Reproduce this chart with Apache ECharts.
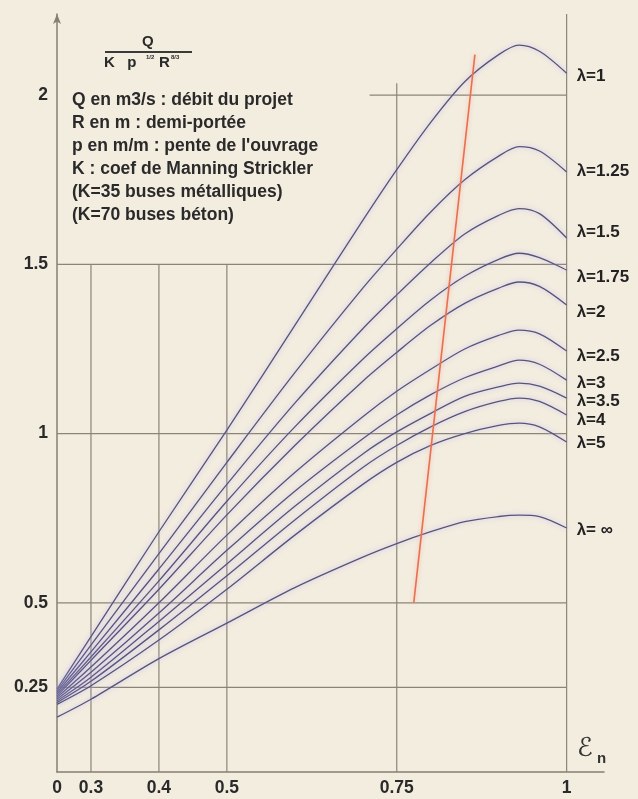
<!DOCTYPE html>
<html>
<head>
<meta charset="utf-8">
<script src="https://cdn.jsdelivr.net/npm/echarts@6/dist/echarts.min.js"></script>
<style>
html,body{margin:0;padding:0;background:#f3ede0;}
#c{width:638px;height:799px;}
</style>
</head>
<body>
<div id="c"></div>
<script>
// x positions (ε_n); the axis origin labelled "0" sits at 0.25
const xs = [0.25, 0.3, 0.4, 0.5, 0.6, 0.7, 0.75, 0.8, 0.85, 0.9, 0.93, 0.96, 1.0];
const lam1   = [0.245, 0.40, 0.71, 1.01, 1.32, 1.63, 1.78, 1.92, 2.04, 2.12, 2.148, 2.13, 2.065];
const lam125 = [0.24, 0.375, 0.645, 0.915, 1.18, 1.43, 1.545, 1.655, 1.75, 1.82, 1.848, 1.835, 1.773];
const lam15  = [0.235, 0.355, 0.60, 0.85, 1.09, 1.31, 1.41, 1.505, 1.59, 1.645, 1.665, 1.65, 1.578];
const lam175 = [0.23, 0.34, 0.565, 0.80, 1.02, 1.22, 1.31, 1.395, 1.465, 1.515, 1.533, 1.52, 1.483];
const lam2   = [0.225, 0.33, 0.54, 0.76, 0.965, 1.155, 1.24, 1.32, 1.385, 1.43, 1.448, 1.435, 1.38];
const lam25  = [0.22, 0.31, 0.50, 0.70, 0.885, 1.05, 1.125, 1.19, 1.25, 1.29, 1.306, 1.295, 1.244];
const lam3   = [0.215, 0.295, 0.47, 0.655, 0.83, 0.985, 1.055, 1.115, 1.165, 1.20, 1.217, 1.205, 1.158];
const lam35  = [0.21, 0.28, 0.445, 0.615, 0.785, 0.94, 1.005, 1.06, 1.11, 1.138, 1.149, 1.14, 1.105];
const lam4   = [0.205, 0.268, 0.42, 0.58, 0.745, 0.90, 0.965, 1.02, 1.065, 1.095, 1.105, 1.095, 1.055];
const lam5   = [0.20, 0.255, 0.39, 0.54, 0.70, 0.85, 0.915, 0.965, 1.00, 1.024, 1.031, 1.02, 0.975];
const lamInf = [0.162, 0.215, 0.335, 0.44, 0.545, 0.635, 0.675, 0.71, 0.74, 0.755, 0.759, 0.755, 0.721];

const curveNames = ['λ=1','λ=1.25','λ=1.5','λ=1.75','λ=2','λ=2.5','λ=3','λ=3.5','λ=4','λ=5','λ= ∞'];
const curveVals  = [lam1, lam125, lam15, lam175, lam2, lam25, lam3, lam35, lam4, lam5, lamInf];
const labelDy    = [3, -1, -6, 7, 7, 5, 3, 3, 5, 1, 2];

// red limit line
const redX = [0.775, 0.865];
const redY = [0.5, 2.12];

// grid lines [x1,y1,x2,y2]
const hLines = [[0.25,0.25,1,0.25],[0.25,0.5,1,0.5],[0.25,1,1,1],[0.25,1.5,1,1.5],[0.71,2,1,2]];
const vLines = [[0.3,0,0.3,1.5],[0.4,0,0.4,1.5],[0.5,0,0.5,1.5],[0.75,0,0.75,2.035],[1,0,1,2.24]];

const xTicks = [0.25, 0.3, 0.4, 0.5, 0.75, 1];
const xTickLabels = ['0','0.3','0.4','0.5','0.75','1'];
const yTicks = [0.25, 0.5, 1, 1.5, 2];
const yTickLabels = ['0.25','0.5','1','1.5','2'];

const FONT = 'Liberation Sans';
const series = [];
hLines.concat(vLines).forEach(l => {
  series.push({type:'line', data:[[l[0],l[1]],[l[2],l[3]]], symbol:'none', silent:true,
    lineStyle:{color:'#8b8577', width:1.2}, z:1, animation:false});
});
curveNames.forEach((n,i) => {
  series.push({type:'line', name:n, data: xs.map((x,j)=>[x, curveVals[i][j]]), symbol:'none',
    smooth:0.3,
    lineStyle:{color:'#57547c', width:1.3, shadowColor:'rgba(185,175,235,0.9)', shadowBlur:5},
    endLabel:{show:true, formatter:n, distance:10, offset:[0,labelDy[i]], color:'#222', fontFamily:FONT, fontWeight:'bold', fontSize:17},
    z:3, animation:false});
});
series.push({type:'line', data: redX.map((x,j)=>[x, redY[j]]), symbol:'none',
  lineStyle:{color:'#e8704f', width:1.6, shadowColor:'rgba(245,170,150,0.8)', shadowBlur:4}, z:4, animation:false});

const chart = echarts.init(document.getElementById('c'), null, {renderer:'canvas'});
chart.setOption({
  backgroundColor:'#f3ede0',
  animation:false,
  grid:{left:57, right:34, top:14, bottom:27, containLabel:false},
  xAxis:{type:'value', min:0.25, max:1.055,
    axisLine:{show:true, lineStyle:{color:'#857f70', width:1.5}},
    axisTick:{show:false}, splitLine:{show:false},
    axisLabel:{customValues:xTicks, formatter:v=>xTickLabels[xTicks.findIndex(t=>Math.abs(t-v)<1e-6)], color:'#2a2a2a', fontFamily:FONT, fontWeight:'bold', fontSize:17.5, margin:7}
  },
  yAxis:{type:'value', min:0, max:2.24,
    axisLine:{show:true, symbol:['none','arrow'], symbolSize:[6,10], lineStyle:{color:'#857f70', width:1.5}},
    axisTick:{show:false}, splitLine:{show:false},
    axisLabel:{customValues:yTicks, formatter:v=>yTickLabels[yTicks.findIndex(t=>Math.abs(t-v)<1e-6)], color:'#2a2a2a', fontFamily:FONT, fontWeight:'bold', fontSize:17.5, margin:9}
  },
  series: series,
  graphic:[
    {type:'text', left:142, top:34, style:{text:'Q', font:'bold 15px '+FONT, fill:'#2a2a2a'}},
    {type:'line', shape:{x1:105,y1:52,x2:192,y2:52}, style:{stroke:'#3a3a3a', lineWidth:2}},
    {type:'text', left:104, top:55, style:{text:'K   p', font:'bold 15px '+FONT, fill:'#2a2a2a'}},
    {type:'text', left:146, top:54, style:{text:'1/2', font:'bold 6px '+FONT, fill:'#2a2a2a'}},
    {type:'text', left:159, top:55, style:{text:'R', font:'bold 15px '+FONT, fill:'#2a2a2a'}},
    {type:'text', left:171, top:54, style:{text:'8/3', font:'bold 6px '+FONT, fill:'#2a2a2a'}},
    {type:'text', left:72, top:89, style:{text:"Q en m3/s : débit du projet\nR en m : demi-portée\np en m/m : pente de l'ouvrage\nK : coef de Manning Strickler\n(K=35 buses métalliques)\n(K=70 buses béton)", font:'bold 17.5px '+FONT, lineHeight:23, fill:'#2a2a2a'}},
    {type:'text', left:577, top:736, style:{text:'ℰ', font:'26px DejaVu Sans', fill:'#333'}},
    {type:'text', left:597, top:751, style:{text:'n', font:'bold 15px '+FONT, fill:'#333'}}
  ]
});
</script>
</body>
</html>
